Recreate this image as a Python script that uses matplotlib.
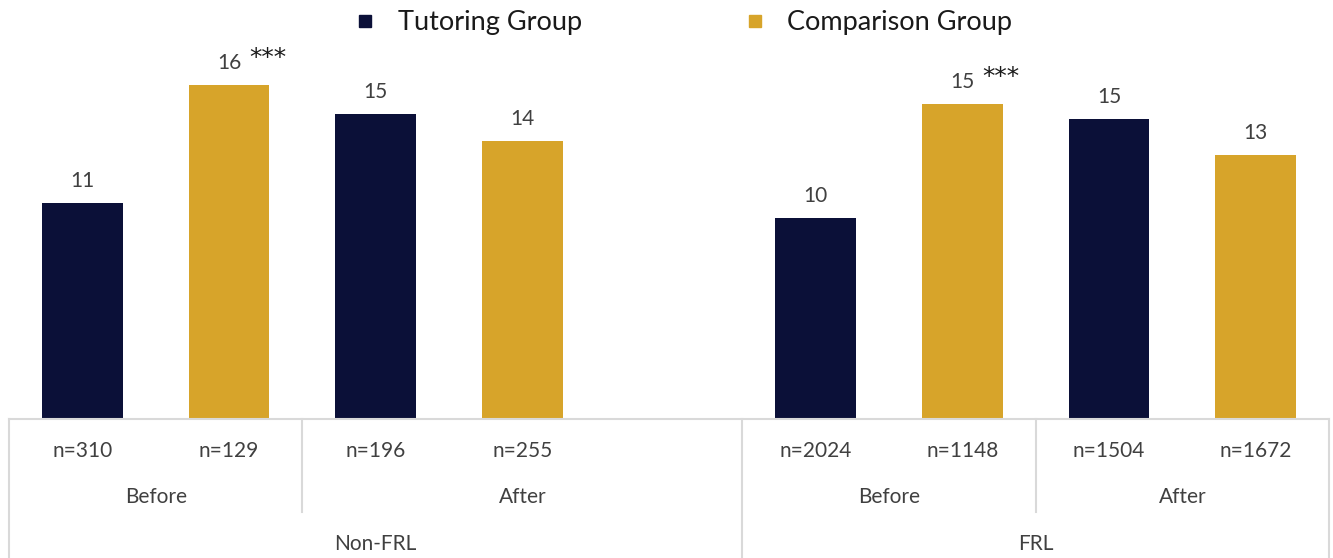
import matplotlib.pyplot as plt
from matplotlib.lines import Line2D

# data
groups = ["Non-FRL", "FRL"]
periods = ["Before", "After"]
series = ["Tutoring Group", "Comparison Group"]
values = [11.03, 15.99, 14.77, 13.64, 10.40, 15.19, 14.56, 13.05]
n_labels = ["n=310", "n=129", "n=196", "n=255", "n=2024", "n=1148", "n=1504", "n=1672"]
significant = [False, True, False, False, False, True, False, False]

navy = "#0b1038"
gold = "#d7a42a"
txt = "#404040"
line_c = "#d9d9d9"

plt.rcParams["font.family"] = ["Lato", "DejaVu Sans"]

# slot positions: 4 bars per group, one empty slot between groups
slots = [0, 1, 2, 3, 5, 6, 7, 8]
colors = [navy, gold] * 4

fig = plt.figure(figsize=(13.33, 5.58), dpi=100)
ax = fig.add_axes([9 / 1333, 0.249, 1320 / 1333, 0.685])

ax.bar(slots, values, width=0.55, color=colors, bottom=0)
ax.set_xlim(-0.5, 8.5)
ax.set_ylim(2, 18)

for x, v, sig in zip(slots, values, significant):
    ax.annotate(f"{round(v)}", (x, v), xytext=(0, 12), textcoords="offset pixels",
                ha="center", va="bottom", fontsize=15, color=txt)
    if sig:
        ax.annotate("***", (x, v), xytext=(20, 15), textcoords="offset pixels",
                    ha="left", va="bottom", fontsize=18, color="#1a1a1a",
                    family="DejaVu Sans")

# axes styling
for s in ["top", "right", "left"]:
    ax.spines[s].set_visible(False)
ax.spines["bottom"].set_color(line_c)
ax.spines["bottom"].set_linewidth(1.5)
ax.set_xticks([])
ax.set_yticks([])

tr = ax.get_xaxis_transform()

# first level: sample sizes
for x, lab in zip(slots, n_labels):
    ax.text(x, -0.084, lab, transform=tr, ha="center", va="center", fontsize=15, color=txt)

# second level: before / after
period_pos = [0.5, 3.0, 5.5, 7.5]
for i, x in enumerate(period_pos):
    ax.text(x, -0.204, periods[i % 2], transform=tr, ha="center", va="center",
            fontsize=15, color=txt)

# third level: groups
for x, lab in zip([2.0, 6.5], groups):
    ax.text(x, -0.327, lab, transform=tr, ha="center", va="center", fontsize=15, color=txt)

# divider lines
for x in [-0.5, 4.5, 8.5]:
    ax.plot([x, x], [0, -0.37], transform=tr, color=line_c, lw=1.5, clip_on=False)
for x in [1.5, 6.5]:
    ax.plot([x, x], [0, -0.243], transform=tr, color=line_c, lw=1.5, clip_on=False)

handles = [Line2D([], [], marker="s", ls="none", color=navy, markersize=9),
           Line2D([], [], marker="s", ls="none", color=gold, markersize=9)]
fig.legend(handles, series, loc="upper center", bbox_to_anchor=(682 / 1333, 1.025),
           ncol=2, frameon=False, fontsize=19.5, columnspacing=5.9, handletextpad=0.7,
           handlelength=1.0, labelcolor="#1a1a1a")

fig.savefig("out.png", dpi=100)
